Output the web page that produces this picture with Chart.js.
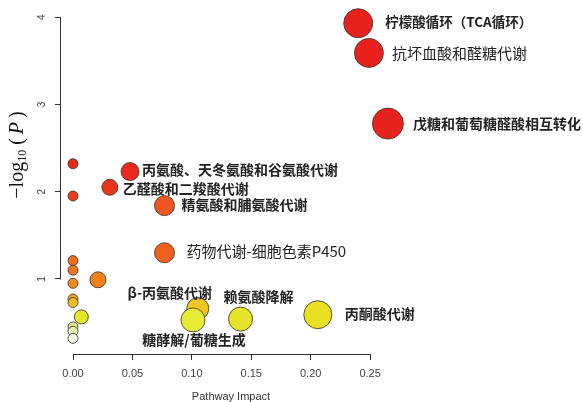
<!DOCTYPE html>
<html>
<head>
<meta charset="utf-8">
<script src="https://cdn.jsdelivr.net/npm/chart.js@4.4.1/dist/chart.umd.min.js"></script>
<style>
  html, body { margin: 0; padding: 0; background: #ffffff; }
  #wrap { width: 583px; height: 402px; }
</style>
</head>
<body>
<div id="wrap"><canvas id="c" width="583" height="402"></canvas></div>
<script>
// ---------- data ----------
const pathwayNames = [
  "柠檬酸循环（TCA循环）", "抗坏血酸和醛糖代谢", "戊糖和葡萄糖醛酸相互转化",
  "", "丙氨酸、天冬氨酸和谷氨酸代谢", "乙醛酸和二羧酸代谢", "",
  "精氨酸和脯氨酸代谢", "药物代谢-细胞色素P450", "", "", "", "",
  "", "", "β-丙氨酸代谢", "丙酮酸代谢", "", "赖氨酸降解", "糖酵解/葡糖生成",
  "", "", ""
];
const pathwayImpact = [
  0.240, 0.249, 0.265,
  0.000, 0.048, 0.031, 0.000,
  0.077, 0.077, 0.000, 0.000, 0.021, 0.000,
  0.000, 0.000, 0.105, 0.206, 0.007, 0.141, 0.101,
  0.000, 0.000, 0.000
];
const negLogP = [
  3.93, 3.59, 2.78,
  2.32, 2.23, 2.05, 1.95,
  1.84, 1.30, 1.21, 1.10, 0.99, 0.95,
  0.77, 0.73, 0.66, 0.59, 0.565, 0.54, 0.53,
  0.45, 0.40, 0.32
];
const bubbleSize = [
  14.5, 14.5, 15.5,
  5, 9, 8, 5,
  10, 10, 5, 5, 8, 5,
  5, 5, 11, 14, 7, 12, 12,
  5, 5, 5
];
const xTickValues = [0.00, 0.05, 0.10, 0.15, 0.20, 0.25];
const yTickValues = [1, 2, 3, 4];
const xAxisTitle = "Pathway Impact";

// ---------- styles ----------
const pointColors = [
  "#E8211E", "#E8211E", "#E8231F",
  "#E52A1E", "#E82B1E", "#E8361E", "#E8401E",
  "#EE5520", "#EE6020", "#EE6C20", "#EF7520", "#F0821E", "#F08C1E",
  "#E8A81E", "#EBC020", "#EEC820", "#E8E020", "#E2E828", "#E6E42A", "#E6EC36",
  "#DDE88A", "#E8F0B8", "#F8F8E6"
];
// label placement relative to bubble centre: [dx, dy, align, bold, size]
const labelStyle = {
  "柠檬酸循环（TCA循环）": [27, -1, "left", true, 13.5],
  "抗坏血酸和醛糖代谢": [23, 0, "left", false, 15],
  "戊糖和葡萄糖醛酸相互转化": [25, 0, "left", true, 14],
  "丙氨酸、天冬氨酸和谷氨酸代谢": [12, -2, "left", true, 14],
  "乙醛酸和二羧酸代谢": [13, 1, "left", true, 14],
  "精氨酸和脯氨酸代谢": [17, -1, "left", true, 14],
  "药物代谢-细胞色素P450": [22, -1, "left", false, 15],
  "β-丙氨酸代谢": [-28, -16, "center", true, 14],
  "赖氨酸降解": [18, -22, "center", true, 14],
  "丙酮酸代谢": [27, -1, "left", true, 14],
  "糖酵解/葡糖生成": [1, 20, "center", true, 14]
};

const points = pathwayImpact.map((x, i) => ({ x: x, y: negLogP[i], r: bubbleSize[i] }));

const rAxisPlugin = {
  id: 'rAxis',
  afterDraw(chart) {
    const ctx = chart.ctx;
    const xs = chart.scales.x, ys = chart.scales.y;
    const ca = chart.chartArea;
    ctx.save();
    // axis lines spanning the tick range only
    ctx.strokeStyle = '#333';
    ctx.lineWidth = 1;
    ctx.beginPath();
    const xb = Math.round(ca.bottom) + 0.5;
    ctx.moveTo(Math.round(xs.getPixelForValue(xTickValues[0])) + 0.5, xb);
    ctx.lineTo(Math.round(xs.getPixelForValue(xTickValues[xTickValues.length - 1])) + 0.5, xb);
    const yl = Math.round(ca.left) - 0.5;
    ctx.moveTo(yl, Math.round(ys.getPixelForValue(yTickValues[0])) + 0.5);
    ctx.lineTo(yl, Math.round(ys.getPixelForValue(yTickValues[yTickValues.length - 1])) + 0.5);
    ctx.stroke();

    // rotated y tick labels
    ctx.fillStyle = '#444';
    ctx.font = '10px "Liberation Sans", Arial, sans-serif';
    ctx.textAlign = 'center';
    ctx.textBaseline = 'middle';
    yTickValues.forEach(v => {
      const py = ys.getPixelForValue(v);
      ctx.save();
      ctx.translate(42, py);
      ctx.rotate(-Math.PI / 2);
      ctx.fillText(String(v), 0, 0);
      ctx.restore();
    });

    // y axis title: −log10 ( P )
    const parts = [
      { t: '\u2212log', f: '20px "Liberation Serif", serif', dy: 0 },
      { t: '10', f: '12px "Liberation Serif", serif', dy: 5 },
      { t: ' (\u2009', f: '20px "Liberation Serif", serif', dy: 0 },
      { t: 'P', f: 'italic 20px "Liberation Serif", serif', dy: 0 },
      { t: '\u2009)', f: '20px "Liberation Serif", serif', dy: 0 }
    ];
    let total = 0;
    parts.forEach(p => { ctx.font = p.f; p.w = ctx.measureText(p.t).width; total += p.w; });
    ctx.save();
    ctx.translate(18, 155);
    ctx.rotate(-Math.PI / 2);
    ctx.fillStyle = '#111';
    ctx.textAlign = 'left';
    ctx.textBaseline = 'middle';
    let cx = -total / 2;
    parts.forEach(p => { ctx.font = p.f; ctx.fillText(p.t, cx, p.dy); cx += p.w; });
    ctx.restore();

    // pathway labels
    ctx.fillStyle = '#222';
    ctx.textBaseline = 'middle';
    pathwayNames.forEach((name, i) => {
      if (!name) return;
      const st = labelStyle[name];
      const px = xs.getPixelForValue(pathwayImpact[i]);
      const py = ys.getPixelForValue(negLogP[i]);
      ctx.font = (st[3] ? 'bold ' : '') + st[4] + 'px "Noto Sans CJK SC", sans-serif';
      ctx.textAlign = st[2];
      ctx.fillText(name, px + st[0], py + st[1]);
    });
    ctx.restore();
  }
};

new Chart(document.getElementById('c'), {
  type: 'bubble',
  data: {
    datasets: [{
      data: points,
      backgroundColor: pointColors,
      borderColor: 'rgba(70,55,40,0.85)',
      borderWidth: 1,
      hoverRadius: 0,
      clip: false
    }]
  },
  options: {
    responsive: false,
    animation: false,
    events: [],
    layout: { autoPadding: false, padding: { top: 11, right: 182, left: 0, bottom: 0 } },
    plugins: { legend: { display: false }, tooltip: { enabled: false } },
    scales: {
      x: {
        type: 'linear',
        min: -0.0101,
        max: 0.276,
        afterFit: s => { s.height = 48; },
        afterBuildTicks: s => { s.ticks = xTickValues.map(v => ({ value: v })); },
        ticks: {
          callback: v => Number(v).toFixed(2),
          font: { family: '"Liberation Sans", Arial, sans-serif', size: 11 },
          color: '#444',
          padding: 7,
          maxRotation: 0,
          minRotation: 0
        },
        grid: { drawOnChartArea: false, drawTicks: true, tickLength: 6, color: '#333', lineWidth: 1 },
        border: { display: false },
        title: {
          display: true,
          text: xAxisTitle,
          font: { family: '"Liberation Sans", Arial, sans-serif', size: 11, lineHeight: 1 },
          color: '#333',
          padding: { top: 0, bottom: 0 }
        }
      },
      y: {
        type: 'linear',
        min: 0.14,
        max: 4.07,
        afterFit: s => { s.width = 61; },
        afterBuildTicks: s => { s.ticks = yTickValues.map(v => ({ value: v })); },
        ticks: { display: false },
        grid: { drawOnChartArea: false, drawTicks: true, tickLength: 6, color: '#333', lineWidth: 1 },
        border: { display: false }
      }
    }
  },
  plugins: [rAxisPlugin]
});
</script>
</body>
</html>
